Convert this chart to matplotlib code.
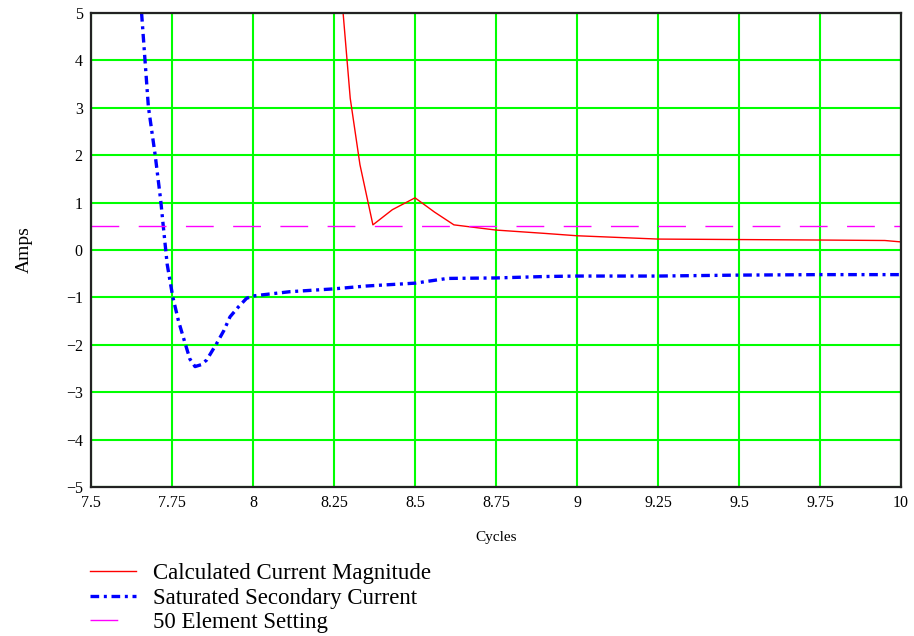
import matplotlib.pyplot as plt

plt.rcParams['font.family'] = ['Liberation Serif', 'DejaVu Serif']

# calculated current magnitude (red)
calc_x = [8.278, 8.30, 8.33, 8.37, 8.43, 8.50, 8.56, 8.62, 8.75, 8.9, 9.0, 9.25, 9.5, 9.75, 9.95, 10.0]
calc_y = [5.0, 3.2, 1.8, 0.53, 0.85, 1.1, 0.8, 0.53, 0.42, 0.35, 0.30, 0.23, 0.22, 0.21, 0.2, 0.17]

# saturated secondary current (blue)
sat_x = [7.656, 7.677, 7.698, 7.715, 7.723, 7.735, 7.752, 7.77, 7.79, 7.805, 7.821, 7.84, 7.857,
         7.888, 7.91, 7.929, 7.955, 7.98, 8.0, 8.05, 8.114, 8.25, 8.35, 8.5, 8.6, 8.75, 8.9,
         9.0, 9.25, 9.5, 9.75, 10.0]
sat_y = [5.0, 3.02, 2.0, 1.05, 0.5, -0.3, -0.98, -1.5, -1.96, -2.3, -2.46, -2.42, -2.32,
         -1.97, -1.7, -1.41, -1.2, -1.02, -0.97, -0.93, -0.88, -0.82, -0.76, -0.7, -0.6, -0.59, -0.56,
         -0.55, -0.55, -0.53, -0.52, -0.52]

setting_level = 0.5

x_ticks = [7.5, 7.75, 8, 8.25, 8.5, 8.75, 9, 9.25, 9.5, 9.75, 10]
x_labels = ['7.5', '7.75', '8', '8.25', '8.5', '8.75', '9', '9.25', '9.5', '9.75', '10']
y_ticks = [-5, -4, -3, -2, -1, 0, 1, 2, 3, 4, 5]

fig = plt.figure(figsize=(9.14, 6.36), dpi=100)
ax = fig.add_axes([0.0996, 0.2343, 0.8862, 0.7453])

l1, = ax.plot(calc_x, calc_y, color='#ff0000', lw=1.0, label='Calculated Current Magnitude')
l2, = ax.plot(sat_x, sat_y, color='#0000ff', lw=2.4, dashes=(2.6, 1.4, 0.9, 1.4),
              dash_capstyle='butt', label='Saturated Secondary Current')
l3 = ax.axhline(setting_level, color='#ff00ff', lw=1.0, dashes=(20, 14),
                label='50 Element Setting')

ax.set_xlim(7.5, 10)
ax.set_ylim(-5, 5)
ax.set_xticks(x_ticks)
ax.set_xticklabels(x_labels)
ax.set_yticks(y_ticks)
ax.grid(True, color='#00ff00', lw=1.5)
ax.set_axisbelow(True)
ax.tick_params(length=0, labelsize=11.5, pad=6)
for s in ax.spines.values():
    s.set_color('#222222')
    s.set_linewidth(1.6)

ax.set_xlabel('Cycles', fontsize=11, labelpad=14)
ax.set_ylabel('Amps', fontsize=14, labelpad=24)

leg = fig.legend(handles=[l1, l2, l3], loc='upper left', bbox_to_anchor=(0.086, 0.133),
                 frameon=False, fontsize=16.5, handlelength=2.0, handletextpad=0.75,
                 labelspacing=0.16, borderpad=0)

fig.savefig('out.png', dpi=100)
